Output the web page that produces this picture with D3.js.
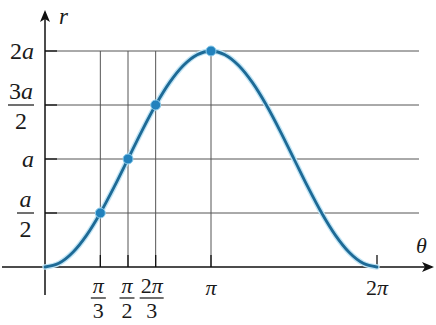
<!DOCTYPE html>
<html>
<head>
<meta charset="utf-8">
<script src="https://cdn.jsdelivr.net/npm/d3@7/dist/d3.min.js"></script>
<style>
  html, body { margin: 0; padding: 0; background: #fff; }
  svg { display: block; }
  text { font-family: "Liberation Serif", "Times New Roman", serif; fill: #1a1a1a; }
</style>
</head>
<body>
<div id="chart"></div>
<script>
const PI = Math.PI

// curve samples, theta in steps of pi/12, r in units of a
const curveTheta = d3.range(25).map(i => i * PI / 12)
const curveR = [0, 0.034, 0.134, 0.293, 0.5, 0.741, 1, 1.259, 1.5, 1.707, 1.866, 1.966, 2,
  1.966, 1.866, 1.707, 1.5, 1.259, 1, 0.741, 0.5, 0.293, 0.134, 0.034, 0]

// highlighted points
const pointTheta = [PI / 3, PI / 2, 2 * PI / 3, PI]
const pointR = [0.5, 1, 1.5, 2]

// r-axis ticks
const yTickValues = [0.5, 1, 1.5, 2]
const yTickNum = ["a", "a", "3a", "2a"]
const yTickDen = ["2", "", "2", ""]

// theta-axis ticks
const xTickValues = [PI / 3, PI / 2, 2 * PI / 3, PI, 2 * PI]
const xTickNum = ["π", "π", "2π", "π", "2π"]
const xTickDen = ["3", "2", "3", "", ""]
const xGridValues = [PI / 3, PI / 2, 2 * PI / 3, PI]

const width = 436, height = 325
const x = d3.scaleLinear().domain([0, 2 * PI]).range([45, 377])
const y = d3.scaleLinear().domain([0, 2]).range([267, 51])

const svg = d3.select("#chart").append("svg")
  .attr("width", width).attr("height", height)

const defs = svg.append("defs")
defs.append("marker")
  .attr("id", "arrow")
  .attr("viewBox", "0 -5 12 10")
  .attr("refX", 10).attr("refY", 0)
  .attr("markerWidth", 12).attr("markerHeight", 10)
  .attr("markerUnits", "userSpaceOnUse")
  .attr("orient", "auto")
  .append("path")
  .attr("d", "M0,-5L12,0L0,5L3,0Z")
  .attr("fill", "#111")

// grid
const grid = svg.append("g").attr("stroke", "#555").attr("stroke-width", 1)
grid.selectAll("line.h").data(yTickValues).join("line")
  .attr("class", "h")
  .attr("x1", x(0)).attr("x2", 419)
  .attr("y1", d => y(d)).attr("y2", d => y(d))
grid.selectAll("line.v").data(xGridValues).join("line")
  .attr("class", "v")
  .attr("x1", d => x(d)).attr("x2", d => x(d))
  .attr("y1", y(2)).attr("y2", y(0))

// ticks
const ticks = svg.append("g").attr("stroke", "#111").attr("stroke-width", 1.3)
ticks.selectAll("line.yt").data(yTickValues).join("line")
  .attr("class", "yt")
  .attr("x1", x(0)).attr("x2", x(0) + 12)
  .attr("y1", d => y(d)).attr("y2", d => y(d))
ticks.selectAll("line.xt").data(xTickValues).join("line")
  .attr("class", "xt")
  .attr("x1", d => x(d)).attr("x2", d => x(d))
  .attr("y1", y(0)).attr("y2", y(0) - 12)

// axes
svg.append("line")
  .attr("x1", 2).attr("x2", 432)
  .attr("y1", y(0)).attr("y2", y(0))
  .attr("stroke", "#111").attr("stroke-width", 1.5)
  .attr("marker-end", "url(#arrow)")
svg.append("line")
  .attr("x1", x(0)).attr("x2", x(0))
  .attr("y1", 295).attr("y2", 12)
  .attr("stroke", "#111").attr("stroke-width", 1.5)
  .attr("marker-end", "url(#arrow)")

// curve
const line = d3.line()
  .x((d, i) => x(curveTheta[i]))
  .y(d => y(d))
  .curve(d3.curveMonotoneX)
svg.append("path").datum(curveR)
  .attr("d", line)
  .attr("fill", "none")
  .attr("stroke", "#bfe4f5").attr("stroke-width", 5.5)
  .attr("stroke-linecap", "round")
svg.append("path").datum(curveR)
  .attr("d", line)
  .attr("fill", "none")
  .attr("stroke", "#1d6a96").attr("stroke-width", 2.8)
  .attr("stroke-linecap", "round")

svg.append("g").selectAll("circle").data(pointR).join("circle")
  .attr("cx", (d, i) => x(pointTheta[i]))
  .attr("cy", d => y(d))
  .attr("r", 5)
  .attr("fill", "#2282bd")
  .attr("stroke", "#8ccbea").attr("stroke-width", 1)

// y tick labels
const yl = svg.append("g").attr("font-size", 24)
yTickValues.forEach((v, i) => {
  const cy = y(v)
  if (yTickDen[i] === "") {
    yl.append("text")
      .attr("x", 34).attr("y", cy + 8)
      .attr("text-anchor", "end")
      .html(fracHtml(yTickNum[i]))
  } else {
    const hw = yTickNum[i].length === 1 ? 8.5 : 13
    const cx = 34 - hw
    yl.append("text")
      .attr("x", cx).attr("y", cy - 6)
      .attr("text-anchor", "middle")
      .html(fracHtml(yTickNum[i]))
    yl.append("line")
      .attr("x1", cx - hw).attr("x2", 34)
      .attr("y1", cy).attr("y2", cy)
      .attr("stroke", "#222").attr("stroke-width", 1.3)
    yl.append("text")
      .attr("x", cx).attr("y", cy + 24)
      .attr("text-anchor", "middle")
      .text(yTickDen[i])
  }
})

// x tick labels
const xOffsets = [-2, -1, -4, 0, 0]
const xl = svg.append("g").attr("font-size", 22)
xTickValues.forEach((v, i) => {
  const cx = x(v) + xOffsets[i]
  if (xTickDen[i] === "") {
    xl.append("text")
      .attr("x", cx).attr("y", 295)
      .attr("text-anchor", "middle")
      .html(fracHtml(xTickNum[i]))
  } else {
    const hw = xTickNum[i].length === 1 ? 7.5 : 12
    xl.append("text")
      .attr("x", cx).attr("y", 293)
      .attr("text-anchor", "middle")
      .html(fracHtml(xTickNum[i]))
    xl.append("line")
      .attr("x1", cx - hw).attr("x2", cx + hw)
      .attr("y1", 298).attr("y2", 298)
      .attr("stroke", "#222").attr("stroke-width", 1.3)
    xl.append("text")
      .attr("x", cx).attr("y", 318)
      .attr("text-anchor", "middle")
      .text(xTickDen[i])
  }
})

// axis names
svg.append("text")
  .attr("x", 59).attr("y", 24)
  .attr("font-size", 23).attr("font-style", "italic")
  .text("r")
svg.append("text")
  .attr("x", 416).attr("y", 253)
  .attr("font-size", 22).attr("font-style", "italic")
  .text("θ")

// digits upright, letters italic
function fracHtml(s) {
  return s.replace(/([aπ])/g, '<tspan font-style="italic">$1</tspan>')
}
</script>
</body>
</html>
